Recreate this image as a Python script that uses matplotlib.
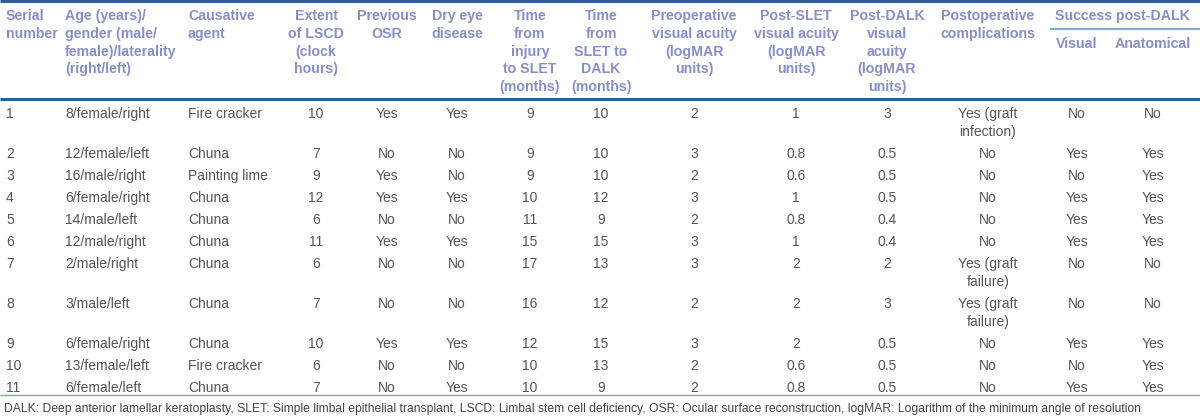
import matplotlib
matplotlib.use("Agg")
import matplotlib.pyplot as plt

plt.rcParams['font.family'] = ['Liberation Sans', 'DejaVu Sans']

# table data
serial = ["1", "2", "3", "4", "5", "6", "7", "8", "9", "10", "11"]
age_gender = ["8/female/right", "12/female/left", "16/male/right", "6/female/right",
              "14/male/left", "12/male/right", "2/male/right", "3/male/left",
              "6/female/right", "13/female/left", "6/female/left"]
agent = ["Fire cracker", "Chuna", "Painting lime", "Chuna", "Chuna", "Chuna",
         "Chuna", "Chuna", "Chuna", "Fire cracker", "Chuna"]
extent = [10, 7, 9, 12, 6, 11, 6, 7, 10, 6, 7]
prev_osr = ["Yes", "No", "Yes", "Yes", "No", "Yes", "No", "No", "Yes", "No", "No"]
dry_eye = ["Yes", "No", "No", "Yes", "No", "Yes", "No", "No", "Yes", "No", "Yes"]
injury_to_slet = [9, 9, 9, 10, 11, 15, 17, 16, 12, 10, 10]
slet_to_dalk = [10, 10, 10, 12, 9, 15, 13, 12, 15, 13, 9]
preop_va = [2, 3, 2, 3, 2, 3, 3, 2, 3, 2, 2]
post_slet_va = ["1", "0.8", "0.6", "1", "0.8", "1", "2", "2", "2", "0.6", "0.8"]
post_dalk_va = ["3", "0.5", "0.5", "0.5", "0.4", "0.4", "2", "3", "0.5", "0.5", "0.5"]
complications = ["Yes (graft\ninfection)", "No", "No", "No", "No", "No",
                 "Yes (graft\nfailure)", "Yes (graft\nfailure)", "No", "No", "No"]
visual_success = ["No", "Yes", "No", "Yes", "Yes", "Yes", "No", "No", "Yes", "No", "Yes"]
anatomical_success = ["No", "Yes", "Yes", "Yes", "Yes", "Yes", "No", "No", "Yes", "Yes", "Yes"]

headers = [
    ["Serial", "number"],
    ["Age (years)/", "gender (male/", "female)/laterality", "(right/left)"],
    ["Causative", "agent"],
    ["Extent", "of LSCD", "(clock", "hours)"],
    ["Previous", "OSR"],
    ["Dry eye", "disease"],
    ["Time", "from", "injury", "to SLET", "(months)"],
    ["Time", "from", "SLET to", "DALK", "(months)"],
    ["Preoperative", "visual acuity", "(logMAR", "units)"],
    ["Post-SLET", "visual acuity", "(logMAR", "units)"],
    ["Post-DALK", "visual", "acuity", "(logMAR", "units)"],
    ["Postoperative", "complications"],
    ["Visual"],
    ["Anatomical"],
]
group_header = "Success post-DALK"
footnote = ("DALK: Deep anterior lamellar keratoplasty, SLET: Simple limbal epithelial "
            "transplant, LSCD: Limbal stem cell deficiency, OSR: Ocular surface "
            "reconstruction, logMAR: Logarithm of the minimum angle of resolution")

columns = [serial, age_gender, agent, extent, prev_osr, dry_eye, injury_to_slet,
           slet_to_dalk, preop_va, post_slet_va, post_dalk_va, complications,
           visual_success, anatomical_success]

# layout (pixels)
col_x = [6, 65, 188, 316, 387, 457, 530, 601, 694, 796, 887, 988, 1077, 1153]
col_ha = ['left', 'left', 'left'] + ['center'] * 11

head_col = '#878fc6'
body_col = '#555555'
dark_line = '#2a5e96'
light_line = '#76a3d3'

fig = plt.figure(figsize=(12, 4.16), dpi=100)
ax = fig.add_axes([0, 0, 1, 1])
ax.set_xlim(0, 1200)
ax.set_ylim(416, 0)
ax.axis('off')

# rules
ax.plot([0, 1200], [1, 1], color=dark_line, lw=2.2, solid_capstyle='butt')
ax.plot([0, 1200], [99, 99], color=dark_line, lw=2.2, solid_capstyle='butt')
ax.plot([1050, 1200], [29, 29], color=light_line, lw=1.3, solid_capstyle='butt')
ax.plot([0, 1200], [395, 395], color=light_line, lw=1.0, solid_capstyle='butt')

# header
for i, lines in enumerate(headers):
    y0 = 16 if i < 12 else 44
    for j, ln in enumerate(lines):
        ax.text(col_x[i], y0 + j * 17.8, ln, ha=col_ha[i], va='center',
                fontsize=10.2, fontweight='bold', color=head_col)
ax.text(1122, 16, group_header, ha='center', va='center',
        fontsize=10.2, fontweight='bold', color=head_col)

# body
y = 114
for r in range(len(serial)):
    nlines = max(str(col[r]).count('\n') + 1 for col in columns)
    for i, col in enumerate(columns):
        for j, ln in enumerate(str(col[r]).split('\n')):
            ax.text(col_x[i], y + j * 18, ln, ha=col_ha[i], va='center',
                    fontsize=10, color=body_col)
    y += 40 if nlines > 1 else 22

ax.text(4, 409, footnote, ha='left', va='center', fontsize=8.75, color='#444444')

fig.savefig('out.png', dpi=100)
